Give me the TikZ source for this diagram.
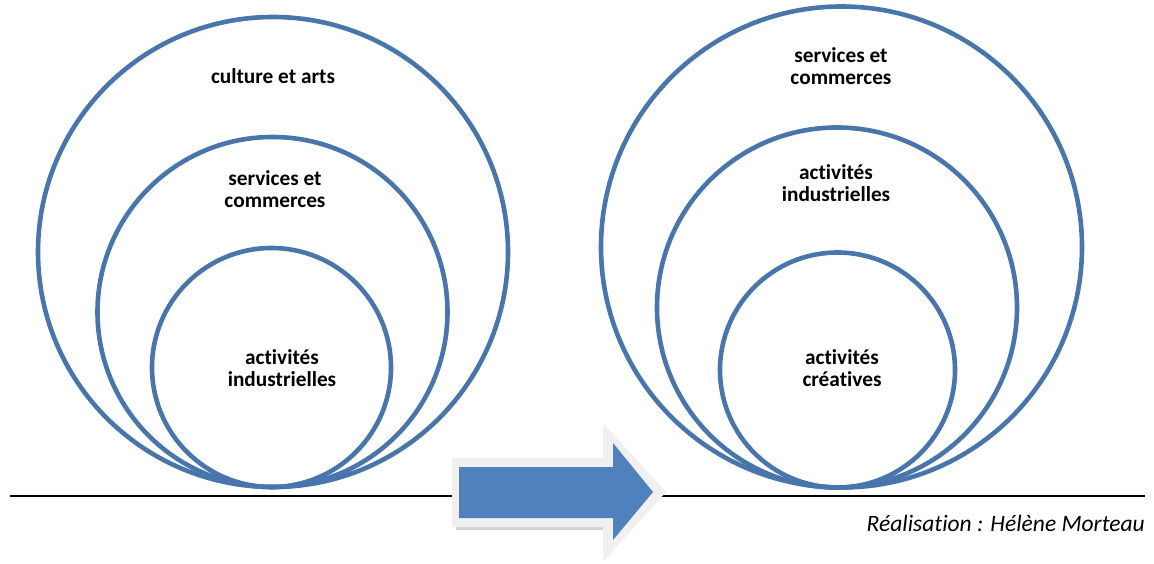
\documentclass[tikz,border=0pt]{standalone}
\usepackage{fontspec}
\setmainfont{Carlito}[RawFeature=-liga]
\definecolor{ringblue}{RGB}{72,117,171}
\definecolor{arrowblue}{RGB}{79,129,189}
\definecolor{arrowrim}{RGB}{240,240,240}
\tikzset{
  ring/.style={draw=ringblue, line width=4.6pt},
  lbl/.style={font=\fontsize{21.3}{22}\selectfont\bfseries, align=center, text=black, inner sep=0pt},
}
\begin{document}
\begin{tikzpicture}[x=1pt,y=-1pt]
\useasboundingbox (0,0) rectangle (1154,564);
% left group
\draw[ring] (273,252) circle (235);
\draw[ring] (272.5,312) circle (175);
\draw[ring] (271.5,367.5) circle (119.5);
% right group
\draw[ring] (841.5,247) circle (240.5);
\draw[ring] (837,307.5) circle (180);
\draw[ring] (837.5,370) circle (117.5);
% base line
\draw[line width=2.6pt, black] (10,496) -- (1145,496);
% arrow shadow
\fill[black!35, opacity=0.5] (456,468) -- (608,468) -- (608,440) -- (661,497) -- (608,553) -- (608,530) -- (456,530) -- cycle;
% arrow rim
\fill[arrowrim] (452,458) -- (603,458) -- (603,423) -- (666,492) -- (603,562) -- (603,527) -- (452,527) -- cycle;
% arrow body
\fill[arrowblue] (459,467) -- (613,467) -- (613,443) -- (653,492) -- (613,540) -- (613,518) -- (459,518) -- cycle;
% labels
\node[lbl] (l1) at (273,76) {culture et arts};
\node[lbl] (l2) at (275,189) {services et\\commerces};
\node[lbl] (l3) at (282,368) {activités\\industrielles};
\node[lbl] (r1) at (841,66) {services et\\commerces};
\node[lbl] (r2) at (836,183) {activités\\industrielles};
\node[lbl] (r3) at (842,368) {activités\\créatives};
\node[font=\fontsize{23.5}{24}\selectfont\itshape, anchor=east, inner sep=0pt] (credit) at (1145,523) {Réalisation : Hélène Morteau};
\end{tikzpicture}
\end{document}
